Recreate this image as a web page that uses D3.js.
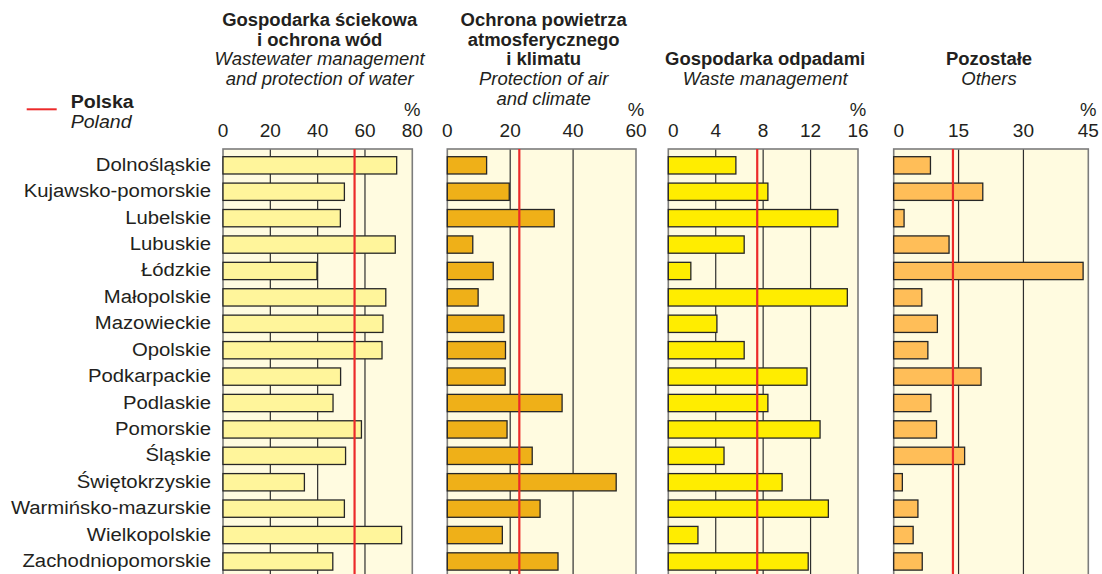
<!DOCTYPE html>
<html lang="pl">
<head>
<meta charset="utf-8">
<title>Nakłady na środki trwałe służące ochronie środowiska według województw</title>
<script src="https://cdn.jsdelivr.net/npm/d3@7"></script>
<style>
  html, body { margin: 0; padding: 0; background: #ffffff; }
  svg { display: block; font-family: "Liberation Sans", Arial, Helvetica, sans-serif; }
</style>
</head>
<body>
<svg id="chart" width="1102" height="574"></svg>
<script>
// Regions (voivodeships)
const regions = [
  "Dolnośląskie", "Kujawsko-pomorskie", "Lubelskie", "Lubuskie", "Łódzkie",
  "Małopolskie", "Mazowieckie", "Opolskie", "Podkarpackie", "Podlaskie",
  "Pomorskie", "Śląskie", "Świętokrzyskie", "Warmińsko-mazurskie",
  "Wielkopolskie", "Zachodniopomorskie"
];

// Share of each field in total outlays, %
const waterValues  = [73.4, 51.3, 49.6, 72.8, 39.7, 68.8, 67.6, 67.2, 49.7, 46.5, 58.5, 51.8, 34.4, 51.3, 75.5, 46.4];
const airValues    = [12.5, 19.7, 34.0, 8.1, 14.6, 9.8, 18.0, 18.5, 18.4, 36.5, 19.0, 27.0, 53.7, 29.5, 17.5, 35.2];
const wasteValues  = [5.7, 8.4, 14.3, 6.4, 1.9, 15.1, 4.1, 6.4, 11.7, 8.4, 12.8, 4.7, 9.6, 13.5, 2.5, 11.8];
const otherValues  = [8.5, 20.6, 2.4, 12.8, 43.8, 6.5, 10.1, 7.9, 20.2, 8.6, 9.9, 16.4, 2.0, 5.6, 4.5, 6.6];

// National (Poland) reference values, %
const polandValues = [55.6, 22.9, 7.5, 13.7];

// Axis maxima and tick labels
const axisMax   = [80, 60, 16, 45];
const waterTicks = [0, 20, 40, 60, 80];
const airTicks   = [0, 20, 40, 60];
const wasteTicks = [0, 4, 8, 12, 16];
const otherTicks = [0, 15, 30, 45];

// Panel headers: bold Polish lines, italic English lines
const titlesPl = [
  ["Gospodarka ściekowa", "i ochrona wód"],
  ["Ochrona powietrza", "atmosferycznego", "i klimatu"],
  ["Gospodarka odpadami"],
  ["Pozostałe"]
];
const titlesEn = [
  ["Wastewater management", "and protection of water"],
  ["Protection of air", "and climate"],
  ["Waste management"],
  ["Others"]
];

const legendPl = "Polska";
const legendEn = "Poland";

// Layout and styling
const panelX = [[223, 412.3], [447.3, 636], [668.3, 858], [893.7, 1088.3]];
const barColors = ["#fff59b", "#efb018", "#ffed00", "#ffbe58"];
const titleFirstLine = [0, 0, 2, 2];   // line index where each header starts
const titleShift = [2, 2, 2, -2];
const zeroLabelShift = [0, 0, 5, 5];
const panelBg = "#fffbe0";
const gridColor = "#2e2e2e";
const frameColor = "#7c7c7c";
const redColor = "#ec2a2a";
const textColor = "#231f20";
const panelTop = 149;
const panelBottom = 580;
const lineGap = 19.7;
const firstBaseline = 26;

// Text is set slightly wide; each label is placed with a horizontal stretch
const place = (sx) => (x, yy) => `translate(${x},${yy}) scale(${sx},1)`;
const placeLabel = place(1.07);
const placeTitle = place(1.05);
const placeSmall = place(1.03);

const panels = [
  { values: waterValues, ticks: waterTicks },
  { values: airValues,   ticks: airTicks },
  { values: wasteValues, ticks: wasteTicks },
  { values: otherValues, ticks: otherTicks }
].map((p, i) => ({
  ...p,
  max: axisMax[i],
  poland: polandValues[i],
  color: barColors[i],
  pl: titlesPl[i],
  en: titlesEn[i],
  range: panelX[i]
}));

const svg = d3.select("#chart");

const y = d3.scaleBand()
  .domain(regions)
  .range([152.2, 574.6])
  .paddingInner(0.345)
  .paddingOuter(0.17);

// Region labels
svg.append("g")
  .selectAll("text")
  .data(regions)
  .join("text")
  .attr("transform", d => placeLabel(211, y(d) + y.bandwidth() / 2 + 5.5))
  .attr("text-anchor", "end")
  .attr("font-size", 19)
  .attr("fill", textColor)
  .text(d => d);

// Legend
const legend = svg.append("g");
legend.append("line")
  .attr("x1", 26.7).attr("x2", 56.7)
  .attr("y1", 109.3).attr("y2", 109.3)
  .attr("stroke", redColor).attr("stroke-width", 2);
legend.append("text")
  .attr("transform", placeSmall(70.7, 108.3))
  .attr("font-size", 19).attr("font-weight", "bold").attr("fill", textColor)
  .text(legendPl);
legend.append("text")
  .attr("transform", placeSmall(70.7, 128.3))
  .attr("font-size", 19).attr("font-style", "italic").attr("fill", textColor)
  .text(legendEn);

panels.forEach((p, i) => {
  const x = d3.scaleLinear().domain([0, p.max]).range(p.range);
  const g = svg.append("g");
  const cx = (p.range[0] + p.range[1]) / 2 + titleShift[i];

  // Header
  const lines = p.pl.map(t => ({ t, bold: true })).concat(p.en.map(t => ({ t, bold: false })));
  g.append("g")
    .selectAll("text")
    .data(lines)
    .join("text")
    .attr("transform", (d, k) => placeTitle(cx, firstBaseline + (titleFirstLine[i] + k) * lineGap))
    .attr("text-anchor", "middle")
    .attr("font-size", 17.6)
    .attr("font-weight", d => d.bold ? "bold" : "normal")
    .attr("font-style", d => d.bold ? "normal" : "italic")
    .attr("fill", textColor)
    .text(d => d.t);

  // Percent sign above the axis end
  g.append("text")
    .attr("transform", placeSmall(x(p.max), 116))
    .attr("text-anchor", "middle")
    .attr("font-size", 18)
    .attr("fill", textColor)
    .text("%");

  // Tick labels
  g.append("g")
    .selectAll("text")
    .data(p.ticks)
    .join("text")
    .attr("transform", d => placeSmall(x(d) + (d === 0 ? zeroLabelShift[i] : 0), 137.3))
    .attr("text-anchor", "middle")
    .attr("font-size", 18.5)
    .attr("fill", textColor)
    .text(d => d);

  // Panel background
  g.append("rect")
    .attr("x", x(0)).attr("y", panelTop)
    .attr("width", x(p.max) - x(0))
    .attr("height", panelBottom - panelTop)
    .attr("fill", panelBg);

  // Inner gridlines
  g.append("g")
    .selectAll("line")
    .data(p.ticks.filter(t => t > 0 && t < p.max))
    .join("line")
    .attr("x1", d => x(d)).attr("x2", d => x(d))
    .attr("y1", panelTop).attr("y2", panelBottom)
    .attr("stroke", gridColor).attr("stroke-width", 1.2);

  // Frame
  g.append("rect")
    .attr("x", x(0)).attr("y", panelTop)
    .attr("width", x(p.max) - x(0))
    .attr("height", panelBottom - panelTop)
    .attr("fill", "none")
    .attr("stroke", frameColor).attr("stroke-width", 1.6);

  // Bars
  g.append("g")
    .selectAll("rect")
    .data(regions.map((r, k) => ({ r, v: p.values[k] })))
    .join("rect")
    .attr("x", x(0))
    .attr("y", d => y(d.r))
    .attr("width", d => x(d.v) - x(0))
    .attr("height", y.bandwidth())
    .attr("fill", p.color)
    .attr("stroke", "#262626")
    .attr("stroke-width", 1.3);

  // National average line
  g.append("line")
    .attr("x1", x(p.poland)).attr("x2", x(p.poland))
    .attr("y1", panelTop).attr("y2", panelBottom)
    .attr("stroke", redColor).attr("stroke-width", 2.2);
});
</script>
</body>
</html>
